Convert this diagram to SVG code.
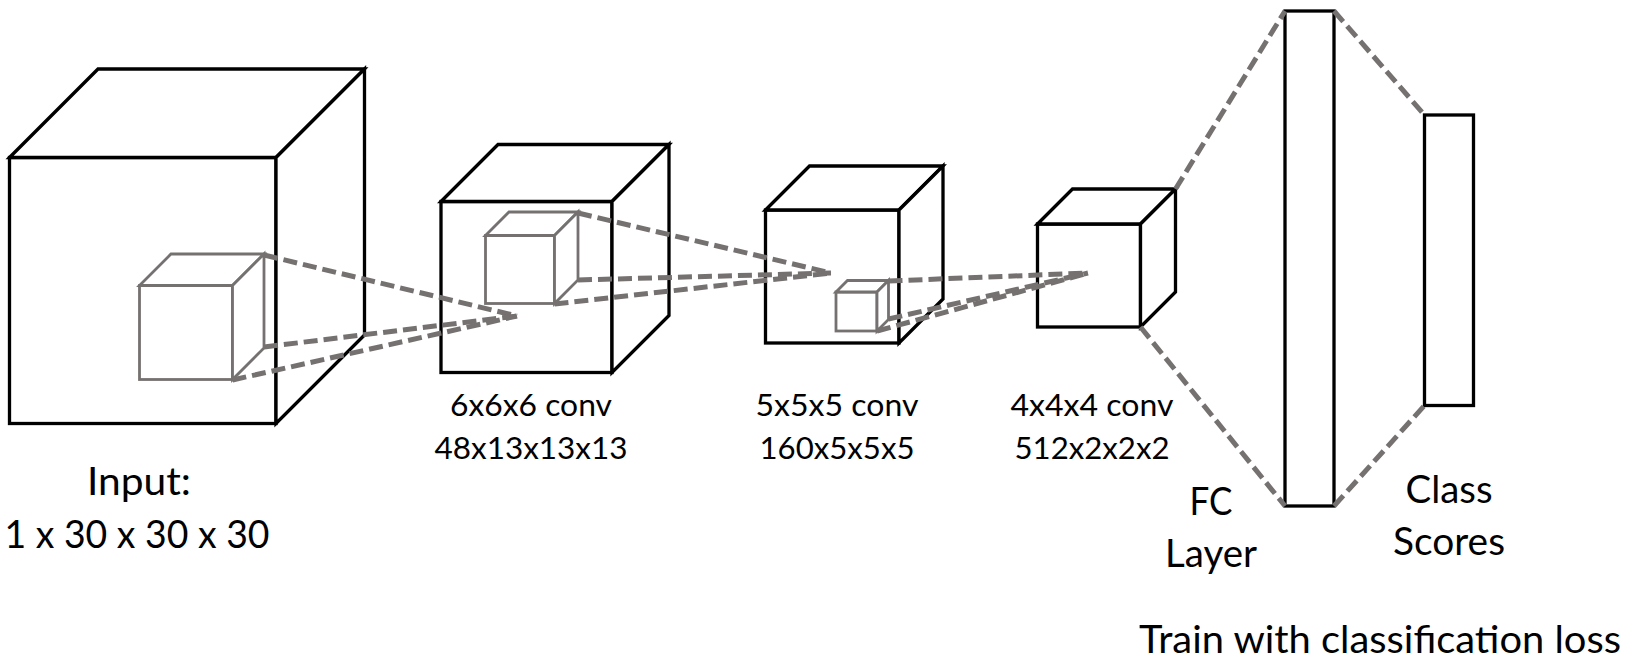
<svg xmlns="http://www.w3.org/2000/svg" width="1627" height="663" viewBox="0 0 1627 663">
  <style>
    .edge { fill: #ffffff; stroke: #000000; stroke-width: 3.3; stroke-linejoin: miter; }
    .inner { fill: #ffffff; stroke: #767171; stroke-width: 2.8; stroke-linejoin: miter; }
    .conn { fill: none; stroke: #767171; stroke-width: 5; stroke-dasharray: 14 6; }
    .big { font-family: Lato, "Open Sans", "Liberation Sans", sans-serif; font-size: 38.5px; fill: #000000; text-anchor: middle; }
    .small { font-family: Lato, "Open Sans", "Liberation Sans", sans-serif; font-size: 31px; fill: #000000; text-anchor: middle; }
  </style>
  <rect x="0" y="0" width="1627" height="663" fill="#ffffff"/>

  <g id="input-cube">
    <rect class="edge" x="9.5" y="157.5" width="266.5" height="266"/>
    <path class="edge" d="M9.5,157.5 L98,69 L364.5,69 L276,157.5 Z"/>
    <path class="edge" d="M276,157.5 L364.5,69 L364.5,335 L276,423.5 Z"/>
    <g id="input-kernel">
      <rect class="inner" x="139.5" y="285.5" width="93" height="94"/>
      <path class="inner" d="M139.5,285.5 L171,254 L264,254 L232.5,285.5 Z"/>
      <path class="inner" d="M232.5,285.5 L264,254 L264,348 L232.5,379.5 Z"/>
    </g>
    <text class="big" x="139" y="495" textLength="104" lengthAdjust="spacingAndGlyphs">Input:</text>
    <text class="big" x="137" y="548" textLength="265" lengthAdjust="spacingAndGlyphs">1 x 30 x 30 x 30</text>
  </g>

  <g id="conv1-cube">
    <rect class="edge" x="441" y="201.5" width="171" height="171"/>
    <path class="edge" d="M441,201.5 L498,144.5 L669,144.5 L612,201.5 Z"/>
    <path class="edge" d="M612,201.5 L669,144.5 L669,315.5 L612,372.5 Z"/>
    <g id="conv1-kernel">
      <rect class="inner" x="485.5" y="235.5" width="69" height="68"/>
      <path class="inner" d="M485.5,235.5 L509,212 L578,212 L554.5,235.5 Z"/>
      <path class="inner" d="M554.5,235.5 L578,212 L578,280 L554.5,303.5 Z"/>
    </g>
    <text class="small" x="531" y="416" textLength="162" lengthAdjust="spacingAndGlyphs">6x6x6 conv</text>
    <text class="small" x="531" y="459" textLength="193" lengthAdjust="spacingAndGlyphs">48x13x13x13</text>
  </g>

  <g id="conv2-cube">
    <rect class="edge" x="765.5" y="210" width="133.5" height="133"/>
    <path class="edge" d="M765.5,210 L809.5,166 L943,166 L899,210 Z"/>
    <path class="edge" d="M899,210 L943,166 L943,299 L899,343 Z"/>
    <g id="conv2-kernel">
      <rect class="inner" x="836" y="292" width="41" height="39"/>
      <path class="inner" d="M836,292 L847.5,280.5 L888.5,280.5 L877,292 Z"/>
      <path class="inner" d="M877,292 L888.5,280.5 L888.5,319.5 L877,331 Z"/>
    </g>
    <text class="small" x="837" y="416" textLength="163" lengthAdjust="spacingAndGlyphs">5x5x5 conv</text>
    <text class="small" x="837" y="459" textLength="155" lengthAdjust="spacingAndGlyphs">160x5x5x5</text>
  </g>

  <g id="conv3-cube">
    <rect class="edge" x="1037.5" y="224" width="103" height="103"/>
    <path class="edge" d="M1037.5,224 L1072.5,189 L1175.5,189 L1140.5,224 Z"/>
    <path class="edge" d="M1140.5,224 L1175.5,189 L1175.5,292 L1140.5,327 Z"/>
    <text class="small" x="1092" y="416" textLength="163" lengthAdjust="spacingAndGlyphs">4x4x4 conv</text>
    <text class="small" x="1092" y="459" textLength="155" lengthAdjust="spacingAndGlyphs">512x2x2x2</text>
  </g>

  <g id="fc-layer">
    <rect class="edge" x="1285" y="11" width="49" height="495"/>
    <text class="big" x="1211" y="515" textLength="43" lengthAdjust="spacingAndGlyphs">FC</text>
    <text class="big" x="1211" y="567" textLength="92" lengthAdjust="spacingAndGlyphs">Layer</text>
  </g>

  <g id="class-scores">
    <rect class="edge" x="1424.5" y="115" width="49" height="290.5"/>
    <text class="big" x="1449" y="503" textLength="87" lengthAdjust="spacingAndGlyphs">Class</text>
    <text class="big" x="1449" y="555" textLength="112" lengthAdjust="spacingAndGlyphs">Scores</text>
  </g>

  <g id="caption">
    <text class="big" x="1380" y="653" textLength="482" lengthAdjust="spacingAndGlyphs">Train with classification loss</text>
  </g>

  <g id="connectors">
    <line class="conn" x1="264" y1="255" x2="517" y2="316"/>
    <line class="conn" x1="264" y1="347" x2="517" y2="316"/>
    <line class="conn" x1="232.5" y1="380" x2="517" y2="316"/>
    <line class="conn" x1="578" y1="213" x2="831" y2="273"/>
    <line class="conn" x1="578" y1="280" x2="831" y2="273"/>
    <line class="conn" x1="554.5" y1="304" x2="831" y2="273"/>
    <line class="conn" x1="888.5" y1="281" x2="1088" y2="273"/>
    <line class="conn" x1="888.5" y1="319" x2="1088" y2="273"/>
    <line class="conn" x1="877" y1="331" x2="1088" y2="273"/>
    <line class="conn" x1="1175.5" y1="189" x2="1285" y2="11"/>
    <line class="conn" x1="1140.5" y1="327" x2="1285" y2="506"/>
    <line class="conn" x1="1334" y1="11" x2="1424.5" y2="115"/>
    <line class="conn" x1="1334" y1="506" x2="1424.5" y2="405.5"/>
  </g>
</svg>
